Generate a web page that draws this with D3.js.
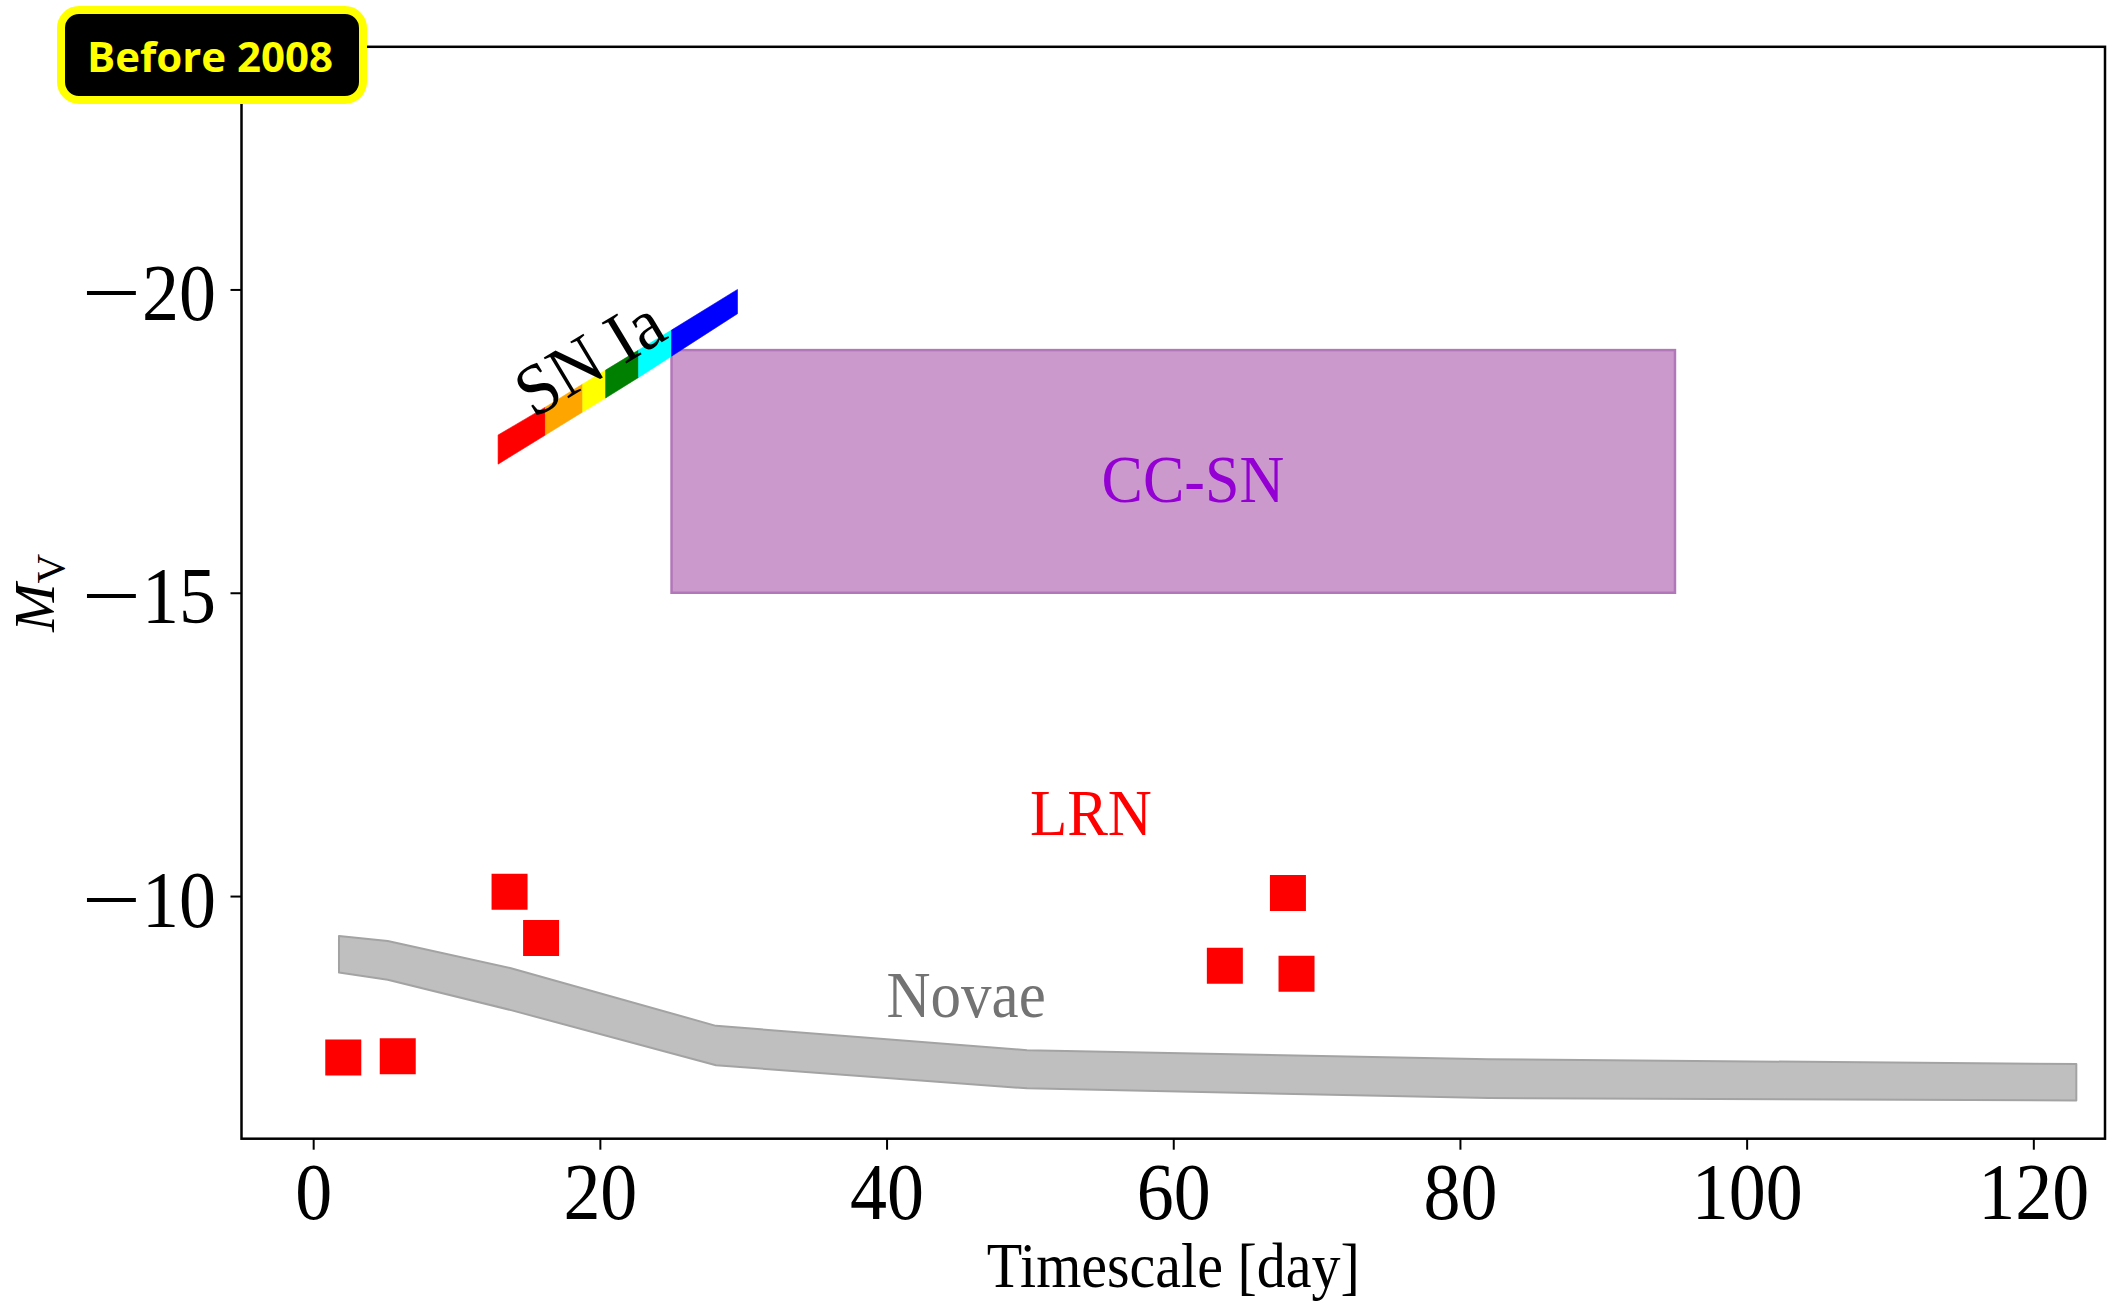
<!DOCTYPE html>
<html>
<head>
<meta charset="utf-8">
<script src="https://cdn.jsdelivr.net/npm/d3@7"></script>
<style>
  html, body { margin: 0; padding: 0; background: #fff; }
  svg { display: block; }
  .serif { font-family: "Liberation Serif", "DejaVu Serif", serif; }
</style>
</head>
<body>
<svg id="chart" width="2112" height="1304"></svg>
<script>
// Novae band: timescale (days) with bright and faint edge magnitudes
const novaeDays   = [1.8, 5.2, 13.8, 28.1, 49.8, 82, 123];
const novaeBright = [-9.34, -9.26, -8.81, -7.86, -7.46, -7.31, -7.23];
const novaeFaint  = [-8.74, -8.62, -8.12, -7.21, -6.83, -6.67, -6.63];

// Luminous red novae
const lrnDays = [2.1, 5.9, 13.7, 15.9, 63.6, 68.0, 68.6];
const lrnMag  = [-7.34, -7.36, -10.07, -9.31, -8.85, -10.05, -8.72];

// Core-collapse SN region
const ccsnDays = [25, 95];
const ccsnMag  = [-19, -15];

// SN Ia strip, split into coloured pieces at these boundaries
const snDays   = [12.9, 16.2, 18.8, 20.4, 22.7, 25.0, 29.6];
const snBright = [-17.6, -18.06, -18.44, -18.67, -19.0, -19.33, -20.0];
const snFaint  = [-17.12, -17.6, -17.98, -18.21, -18.55, -18.9, -19.6];
const snColors = ["#ff0000", "#ffa500", "#ffff00", "#008000", "#00ffff", "#0000ff"];

// Axis ticks
const xTicks = [0, 20, 40, 60, 80, 100, 120];
const yTicks = [-20, -15, -10];

const W = 2112, H = 1304;
const plot = { left: 241.5, right: 2105, top: 46.8, bottom: 1138.7 };

const svg = d3.select("#chart");
svg.append("rect").attr("width", W).attr("height", H).attr("fill", "#fff");

const x = d3.scaleLinear().domain([-5, 125]).range([plot.left, plot.right]);
const y = d3.scaleLinear().domain([-6, -24]).range([plot.bottom, plot.top]);

const g = svg.append("g");

// CC-SN box
g.append("rect")
  .attr("x", x(ccsnDays[0]))
  .attr("y", y(ccsnMag[0]))
  .attr("width", x(ccsnDays[1]) - x(ccsnDays[0]))
  .attr("height", y(ccsnMag[1]) - y(ccsnMag[0]))
  .attr("fill", "#cc99cc")
  .attr("stroke", "#b277b8")
  .attr("stroke-width", 2.5);

// Novae band
const novaeRows = novaeDays.map((d, i) => ({ d, b: novaeBright[i], f: novaeFaint[i] }));
g.append("path")
  .datum(novaeRows)
  .attr("d", d3.area().x(r => x(r.d)).y0(r => y(r.f)).y1(r => y(r.b)))
  .attr("fill", "#bfbfbf")
  .attr("stroke", "#a3a3a3")
  .attr("stroke-width", 2)
  .attr("stroke-linejoin", "round");

// SN Ia coloured strip
const snArea = d3.area().x(r => x(r.d)).y0(r => y(r.f)).y1(r => y(r.b));
snColors.forEach((c, i) => {
  const piece = [i, i + 1].map(k => ({ d: snDays[k], b: snBright[k], f: snFaint[k] }));
  g.append("path").datum(piece).attr("d", snArea)
    .attr("fill", c).attr("stroke", c).attr("stroke-width", 0.6);
});

// LRN markers
const lrnRows = lrnDays.map((d, i) => ({ d, m: lrnMag[i] }));
g.selectAll("path.lrn").data(lrnRows).enter().append("path")
  .attr("class", "lrn")
  .attr("transform", r => `translate(${x(r.d)},${y(r.m)})`)
  .attr("d", d3.symbol().type(d3.symbolSquare).size(36 * 36))
  .attr("fill", "#ff0000");

// Region labels
g.append("text").attr("class", "serif")
  .attr("transform", `translate(${x(40)},${y(-8)}) scale(1,1.08)`)
  .attr("font-size", 61).attr("fill", "#737373")
  .text("Novae");
g.append("text").attr("class", "serif")
  .attr("transform", `translate(${x(50)},${y(-11)}) scale(1,1.08)`)
  .attr("font-size", 61).attr("fill", "#ff0000")
  .text("LRN");
g.append("text").attr("class", "serif")
  .attr("transform", `translate(${x(55)},${y(-16.5)}) scale(1,1.08)`)
  .attr("font-size", 62).attr("fill", "#9400d3")
  .text("CC-SN");
g.append("text").attr("class", "serif")
  .attr("transform", `translate(${x(19.5)},${y(-18.79)}) rotate(-31) scale(1,1.05)`)
  .attr("text-anchor", "middle").attr("y", 17)
  .attr("font-size", 69).attr("fill", "#000")
  .text("SN Ia");

// Axes
const xAxis = svg.append("g").attr("transform", `translate(0,${plot.bottom})`);
xAxis.call(d3.axisBottom(x).tickValues(d3.range(-5, 126, 5)).tickSize(7).tickFormat(""));
xAxis.call(d3.axisBottom(x).tickValues(xTicks).tickSize(11).tickFormat(d3.format("d")));
xAxis.selectAll(".domain").remove();

const yAxis = svg.append("g").attr("transform", `translate(${plot.left},0)`);
yAxis.call(d3.axisLeft(y).tickValues(d3.range(-24, -5.9, 0.5)).tickSize(7).tickFormat(""));
yAxis.call(d3.axisLeft(y).tickValues(yTicks).tickSize(11).tickFormat(d => Math.abs(d)));
yAxis.selectAll(".domain").remove();

svg.selectAll(".tick line").attr("stroke", "#000").attr("stroke-width", 2);

xAxis.selectAll(".tick text")
  .attr("class", "serif").attr("font-family", null)
  .attr("y", null).attr("dy", null)
  .attr("transform", "translate(0,80.5) scale(1,1.1)")
  .attr("font-size", 74).attr("fill", "#000");

// y tick labels: digits, then a widened math minus in front of them
yAxis.selectAll(".tick").filter(d => yTicks.includes(d)).each(function () {
  const tick = d3.select(this);
  const digits = tick.select("text")
    .attr("class", "serif").attr("font-family", null)
    .attr("x", null).attr("dy", null)
    .attr("text-anchor", "end")
    .attr("transform", "translate(-25.5,30) scale(1,1.1)")
    .attr("font-size", 74).attr("fill", "#000");
  const w = digits.node().getComputedTextLength();
  tick.append("text")
    .attr("class", "serif")
    .attr("text-anchor", "end")
    .attr("transform", `translate(${-25.5 - w - 1},30) scale(1.42,1.1)`)
    .attr("font-size", 74).attr("fill", "#000")
    .text("\u2212");
});

// Frame
svg.append("rect")
  .attr("x", plot.left).attr("y", plot.top)
  .attr("width", plot.right - plot.left).attr("height", plot.bottom - plot.top)
  .attr("fill", "none").attr("stroke", "#000").attr("stroke-width", 2.5);

// Axis titles
svg.append("text").attr("class", "serif")
  .attr("transform", `translate(${(plot.left + plot.right) / 2},1287) scale(1,1.08)`)
  .attr("text-anchor", "middle").attr("font-size", 58).attr("fill", "#000")
  .text("Timescale [day]");

const yTitle = svg.append("text").attr("class", "serif")
  .attr("transform", `translate(54,${(plot.top + plot.bottom) / 2}) rotate(-90)`)
  .attr("text-anchor", "middle").attr("font-size", 58).attr("fill", "#000");
yTitle.append("tspan").attr("font-style", "italic").text("M");
yTitle.append("tspan").attr("font-size", 41).attr("dy", 10).text("V");

// Era badge
const badge = svg.append("g");
badge.append("rect")
  .attr("x", 61).attr("y", 10).attr("width", 302).attr("height", 90).attr("rx", 18)
  .attr("fill", "#000").attr("stroke", "#ffff00").attr("stroke-width", 8);
badge.append("text")
  .attr("x", 210).attr("y", 71.5)
  .attr("text-anchor", "middle")
  .attr("font-family", "'Open Sans', 'Noto Sans', sans-serif")
  .attr("font-weight", 700).attr("font-size", 42).attr("fill", "#ffff00")
  .text("Before 2008");
</script>
</body>
</html>
